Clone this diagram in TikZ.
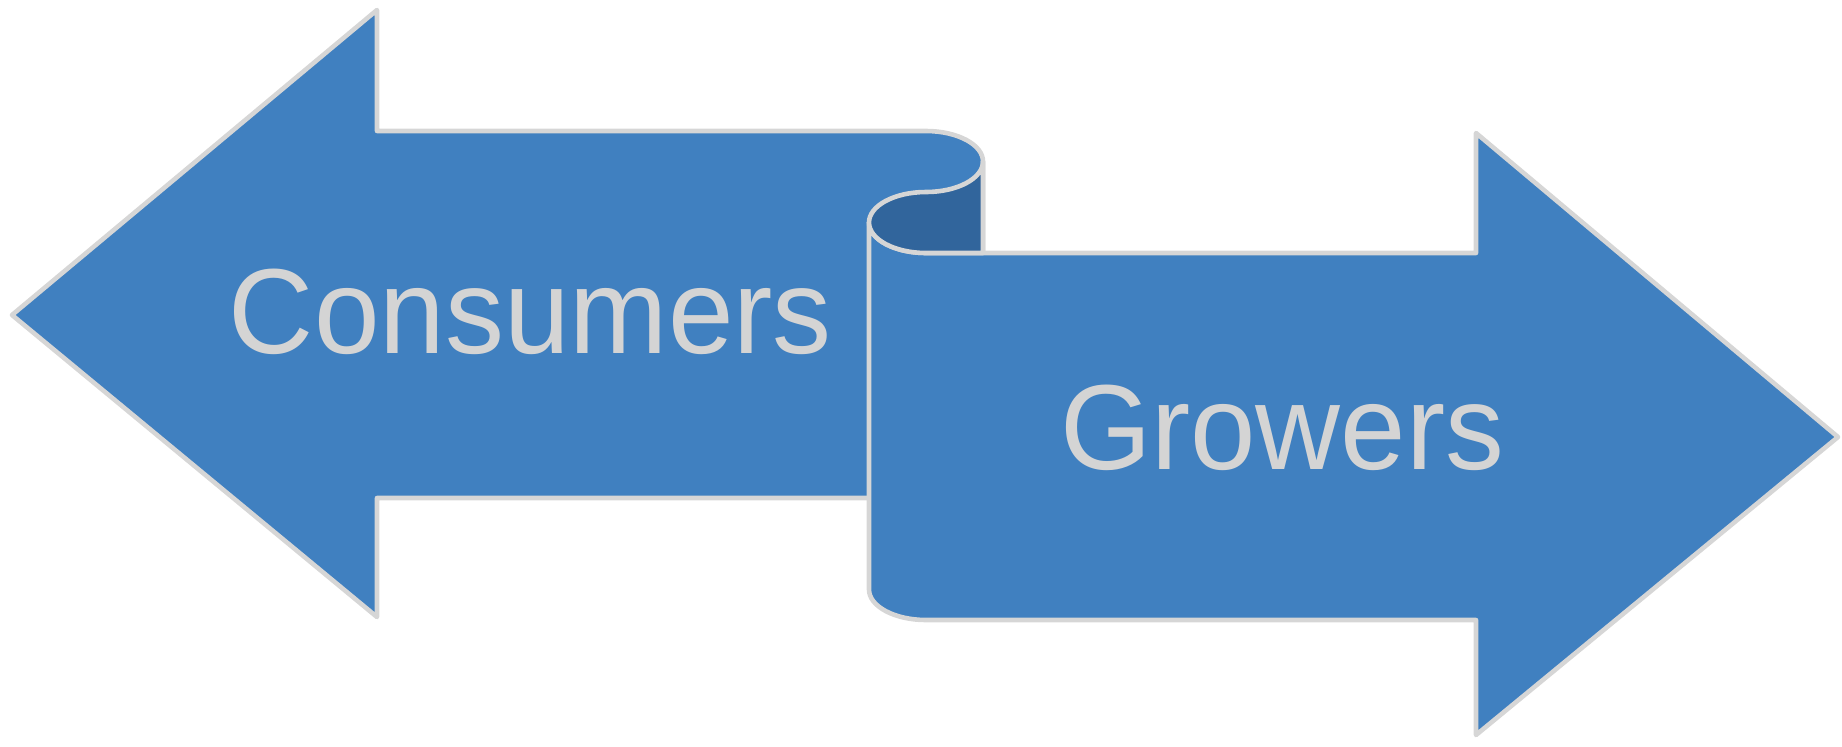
\documentclass[tikz,border=0pt]{standalone}
\usepackage{fontspec}
\setmainfont{Liberation Sans}
\definecolor{arrowblue}{RGB}{64,128,192}
\definecolor{curlblue}{RGB}{49,101,156}
\definecolor{edgegray}{RGB}{214,214,214}
\definecolor{textgray}{RGB}{212,212,212}
\begin{document}
\begin{tikzpicture}[x=0.5pt,y=-0.5pt,
  band/.style={fill=arrowblue, draw=edgegray, line width=2.3pt, line join=round},
  curlback/.style={fill=curlblue, draw=edgegray, line width=2.3pt, line join=round},
  lbl/.style={text=textgray, font=\fontsize{60.5}{70}\selectfont, anchor=base, inner sep=0pt}]
\useasboundingbox (0,0) rectangle (1842,746);
% left arrow (Consumers)
\draw[band] (12,315) -- (377,10) -- (377,131) -- (926,131)
  .. controls (957.5,131) and (983,144.7) .. (983,161.5)
  -- (983,498) -- (377,498) -- (377,617) -- cycle;
% right arrow (Growers)
\draw[band] (1838,437) -- (1476,133) -- (1476,253) -- (926,253)
  .. controls (894.5,253) and (869,239.3) .. (869,222.5)
  -- (869,589.5)
  .. controls (869,606.3) and (894.5,620) .. (926,620)
  -- (1476,620) -- (1476,735) -- cycle;
% back of the curl
\draw[curlback] (983,161.5)
  .. controls (983,178.3) and (957.5,192) .. (926,192)
  .. controls (894.5,192) and (869,205.7) .. (869,222.5)
  .. controls (869,239.3) and (894.5,253) .. (926,253)
  -- (983,253) -- cycle;
\node[lbl] (consumers) at (530.5,353) {\resizebox{301.5pt}{\height}{Consumers}};
\node[lbl] (growers) at (1282,469.5) {\resizebox{222pt}{\height}{Growers}};
\end{tikzpicture}
\end{document}
